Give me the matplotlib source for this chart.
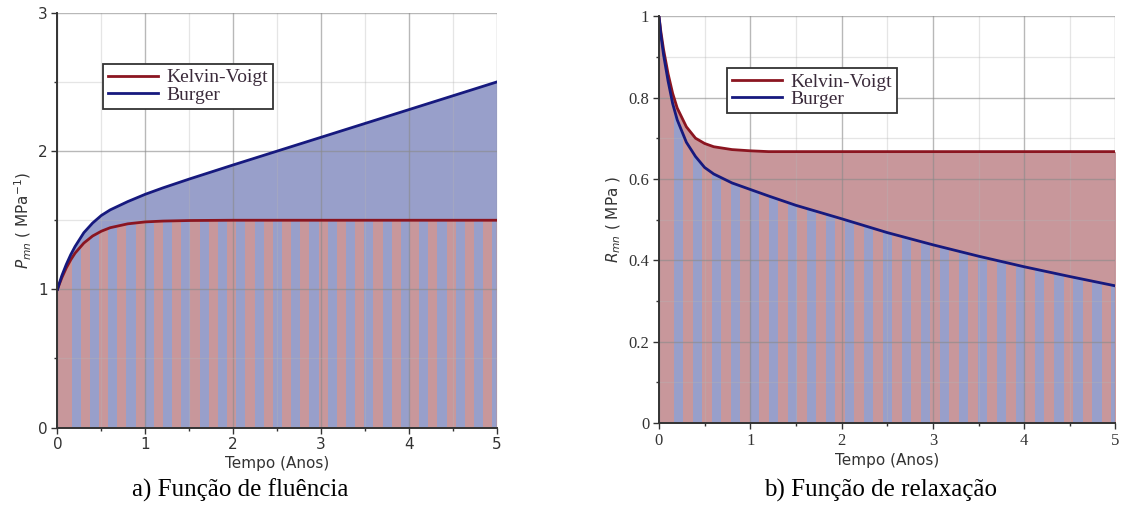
import numpy as np
import matplotlib
matplotlib.use("Agg")
import matplotlib.pyplot as plt
from matplotlib.ticker import MultipleLocator, FuncFormatter

# sample times (years)
t = [0, 0.02, 0.05, 0.1, 0.15, 0.2, 0.3, 0.4, 0.5, 0.6, 0.8, 1.0, 1.2, 1.5,
     2.0, 2.5, 3.0, 3.5, 4.0, 4.5, 5.0]

# creep function P_mn (MPa^-1)
creep_kv = [1.0, 1.036, 1.085, 1.155, 1.213, 1.262, 1.335, 1.386, 1.421, 1.446,
            1.474, 1.488, 1.494, 1.498, 1.5, 1.5, 1.5, 1.5, 1.5, 1.5, 1.5]
creep_burger = [1.0, 1.042, 1.10, 1.18, 1.25, 1.31, 1.41, 1.48, 1.535, 1.575,
                1.635, 1.688, 1.734, 1.798, 1.9, 2.0, 2.1, 2.2, 2.3, 2.4, 2.5]

# relaxation function R_mn (MPa)
relax_kv = [1.0, 0.963, 0.918, 0.858, 0.81, 0.774, 0.728, 0.70, 0.687, 0.679,
            0.672, 0.669, 0.667, 0.667, 0.667, 0.667, 0.667, 0.667, 0.667, 0.667, 0.667]
relax_burger = [1.0, 0.955, 0.905, 0.84, 0.785, 0.745, 0.69, 0.655, 0.628, 0.612,
                0.59, 0.574, 0.558, 0.535, 0.502, 0.468, 0.438, 0.41, 0.384, 0.36, 0.337]

RED_LINE = "#8b1520"
BLUE_LINE = "#16197e"
RED_FILL = "#c8979b"
BLUE_FILL = "#989fca"


def striped_fill(ax, x, y, ymax):
    """Red area under y with blue vertical stripes clipped to it."""
    base = ax.fill_between(x, 0, y, color=RED_FILL, lw=0, zorder=1)
    period = 5 / 24
    starts = np.arange(0.16, 5, period)
    bars = ax.bar(starts, ymax, width=period / 2, align="edge",
                  color=BLUE_FILL, lw=0, zorder=1.1)
    clip = base.get_paths()[0]
    for b in bars:
        b.set_clip_path(clip, ax.transData)


def style_axes(ax, major_y, minor_y, tick_font):
    for s in ("top", "right"):
        ax.spines[s].set_visible(False)
    for s in ("left", "bottom"):
        ax.spines[s].set_color("#333333")
        ax.spines[s].set_linewidth(1.4)
        ax.spines[s].set_zorder(5)
    ax.xaxis.set_major_locator(MultipleLocator(1))
    ax.xaxis.set_minor_locator(MultipleLocator(0.5))
    ax.yaxis.set_major_locator(MultipleLocator(major_y))
    ax.yaxis.set_minor_locator(MultipleLocator(minor_y))
    ax.grid(which="major", color="#8a8a8a", lw=1.0, alpha=0.6, zorder=3)
    ax.grid(which="minor", color="#b5b5b5", lw=0.9, alpha=0.35, zorder=3)
    ax.set_axisbelow(False)
    ax.tick_params(which="major", length=4, width=1, color="#333333",
                   labelcolor="#333333", labelsize=tick_font[1], pad=3)
    ax.tick_params(which="minor", length=2.5, width=1, color="#333333")
    for lab in ax.get_xticklabels() + ax.get_yticklabels():
        lab.set_family(tick_font[0])


def short_label(v, pos):
    if abs(v) < 1e-9:
        return "0"
    if abs(v - 1) < 1e-9:
        return "1"
    return f"{v:.1f}"


fig = plt.figure(figsize=(11.23, 5.17), dpi=100)
ax1 = fig.add_axes([0.0512, 0.173, 0.391, 0.802])
ax2 = fig.add_axes([0.5868, 0.1818, 0.4065, 0.787])

# creep panel
ax1.fill_between(t, creep_kv, creep_burger, color=BLUE_FILL, lw=0, zorder=1)
striped_fill(ax1, t, creep_kv, 3)
ax1.plot(t, creep_kv, color=RED_LINE, lw=2.0, label="Kelvin-Voigt", zorder=4)
ax1.plot(t, creep_burger, color=BLUE_LINE, lw=2.0, label="Burger", zorder=4)
ax1.set_xlim(0, 5)
ax1.set_ylim(0, 3)
style_axes(ax1, 1, 0.5, ("DejaVu Sans", 11))
ax1.set_xlabel("Tempo (Anos)", fontsize=11, color="#333333", labelpad=3)
ax1.set_ylabel(r"$P_{mn}$ ( MPa$^{-1}$)", fontsize=11, color="#333333", labelpad=3)

# relaxation panel
ax2.fill_between(t, relax_burger, relax_kv, color=RED_FILL, lw=0, zorder=1)
striped_fill(ax2, t, relax_burger, 1)
ax2.plot(t, relax_kv, color=RED_LINE, lw=2.0, label="Kelvin-Voigt", zorder=4)
ax2.plot(t, relax_burger, color=BLUE_LINE, lw=2.0, label="Burger", zorder=4)
ax2.set_xlim(0, 5)
ax2.set_ylim(0, 1)
style_axes(ax2, 0.2, 0.1, ("Liberation Serif", 12))
ax2.yaxis.set_major_formatter(FuncFormatter(short_label))
ax2.set_xlabel("Tempo (Anos)", fontsize=11, color="#333333", labelpad=3)
ax2.set_ylabel(r"$R_{mn}$ ( MPa )", fontsize=11, color="#333333", labelpad=4)

for ax, anchor in ((ax1, (0.1035, 0.877)), (ax2, (0.149, 0.872))):
    leg = ax.legend(loc="upper left", bbox_to_anchor=anchor, borderaxespad=0,
                    prop={"family": "Liberation Serif", "size": 14},
                    fancybox=False, framealpha=1, edgecolor="#333333",
                    handlelength=2.6, handletextpad=0.4, labelspacing=0.0,
                    borderpad=0.25)
    leg.get_frame().set_linewidth(1.3)
    leg.set_zorder(6)
    for txt in leg.get_texts():
        txt.set_color("#3a2a3a")

fig.text(0.214, 0.052, "a) Função de fluência", family="Liberation Serif",
         fontsize=18, ha="center", va="center")
fig.text(0.784, 0.052, "b) Função de relaxação", family="Liberation Serif",
         fontsize=18, ha="center", va="center")

fig.savefig("out.png", dpi=100, facecolor="white")
